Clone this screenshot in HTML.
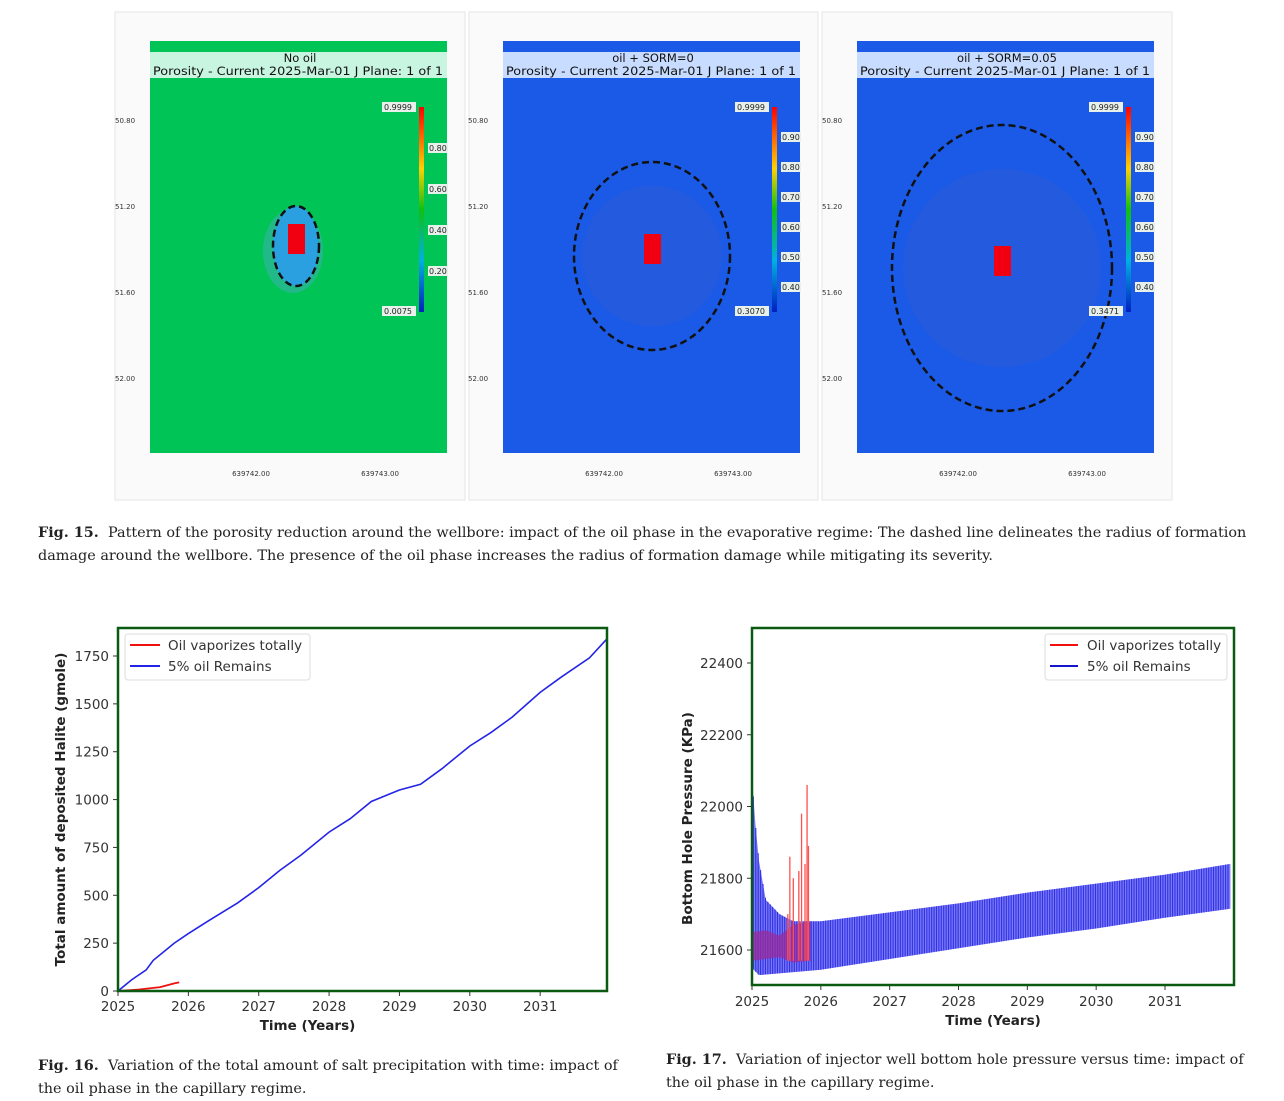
<!DOCTYPE html>
<html><head><meta charset="utf-8">
<style>
body{margin:0;background:#fff;width:1284px;height:1099px;position:relative;overflow:hidden;font-family:"DejaVu Sans",sans-serif}
.abs{position:absolute}
.cap{position:absolute;font-family:"DejaVu Serif",serif;font-size:14.4px;line-height:23px;color:#222}
.cap b{font-weight:bold}
</style></head><body>
<svg class="abs" style="left:0;top:0" width="1284" height="520">
  <g font-family="DejaVu Sans, sans-serif">
  <rect x="115" y="12" width="350" height="488" fill="#fafafa" stroke="#e6e6e6"/>
  <rect x="469" y="12" width="349" height="488" fill="#fafafa" stroke="#e6e6e6"/>
  <rect x="822" y="12" width="350" height="488" fill="#fafafa" stroke="#e6e6e6"/>
  <g id="panels"></g>
  </g>
</svg>
<div class="cap" style="left:38px;top:521px;width:1225px"><b>Fig. 15.</b>&nbsp; Pattern of the porosity reduction around the wellbore: impact of the oil phase in the evaporative regime: The dashed line delineates the radius of formation damage around the wellbore. The presence of the oil phase increases the radius of formation damage while mitigating its severity.</div>

<svg class="abs" style="left:0;top:600px" width="640" height="440" id="c16"></svg>
<svg class="abs" style="left:640px;top:600px" width="644" height="440" id="c17"></svg>

<div class="cap" style="left:38px;top:1054px;width:600px"><b>Fig. 16.</b>&nbsp; Variation of the total amount of salt precipitation with time: impact of the oil phase in the capillary regime.</div>
<div class="cap" style="left:666px;top:1048px;width:600px"><b>Fig. 17.</b>&nbsp; Variation of injector well bottom hole pressure versus time: impact of the oil phase in the capillary regime.</div>

<script>
// ---------- Fig 16 data ----------
const years = [2025,2026,2027,2028,2029,2030,2031];
const haliteTicks = [0,250,500,750,1000,1250,1500,1750];
const blueT = [2025,2025.2,2025.4,2025.5,2025.8,2026,2026.3,2026.7,2027,2027.3,2027.6,2028,2028.3,2028.6,2029,2029.3,2029.6,2030,2030.3,2030.6,2031,2031.3,2031.7,2031.95];
const blueV = [0,60,110,160,250,300,370,460,540,630,710,830,900,990,1050,1080,1160,1280,1350,1430,1560,1640,1740,1840];
const redT = [2025,2025.3,2025.6,2025.8,2025.87];
const redV = [0,8,20,40,45];
// ---------- Fig 17 data ----------
const bhpTicks = [21600,21800,22000,22200,22400];
const upT = [2025,2025.05,2025.1,2025.2,2025.4,2025.6,2026,2027,2028,2029,2030,2031,2031.95];
const upV = [22080,21950,21850,21740,21700,21680,21680,21705,21730,21760,21785,21810,21840];
const loT = [2025,2025.1,2026,2027,2028,2029,2030,2031,2031.95];
const loV = [21550,21530,21545,21575,21605,21635,21660,21690,21715];
const redBandT = [2025,2025.2,2025.4,2025.6,2025.85];
const redBandHi = [21650,21655,21640,21670,21680];
const redBandLo = [21570,21575,21580,21565,21570];
const spikeT = [2025.52,2025.55,2025.6,2025.68,2025.72,2025.77,2025.8,2025.82];
const spikeV = [21700,21860,21800,21820,21980,21840,22060,21890];

const NS='http://www.w3.org/2000/svg';
function el(p,tag,at){const e=document.createElementNS(NS,tag);for(const k in at)e.setAttribute(k,at[k]);p.appendChild(e);return e;}
function txt(p,x,y,s,at){const e=el(p,'text',Object.assign({x:x,y:y},at));e.textContent=s;return e;}
function lerp(ts,vs,t){for(let i=0;i<ts.length-1;i++){if(t<=ts[i+1]){const f=(t-ts[i])/(ts[i+1]-ts[i]);return vs[i]+f*(vs[i+1]-vs[i]);}}return vs[vs.length-1];}

// Fig 16
(function(){
const s=document.getElementById('c16');
const L=118,R=607,T=28,B=391;
const X=t=>L+(t-2025)*(R-L)/6.95, Y=v=>B-v*(335/1750);
years.forEach(y=>{el(s,'line',{x1:X(y),x2:X(y),y1:B,y2:B+5,stroke:'#333'});
 const t=txt(s,X(y),B+20,String(y),{'font-size':13.5,'text-anchor':'middle',fill:'#333'});});
haliteTicks.forEach(v=>{el(s,'line',{x1:L-5,x2:L,y1:Y(v),y2:Y(v),stroke:'#333'});
 const t=txt(s,L-9,Y(v)+5,String(v),{'font-size':13.5,'text-anchor':'end',fill:'#333'});});
const bp=el(s,'polyline',{points:blueT.map((t,i)=>X(t)+','+Y(blueV[i])).join(' '),fill:'none',stroke:'#2424e8','stroke-width':1.6});

const rp=el(s,'polyline',{points:redT.map((t,i)=>X(t)+','+Y(redV[i])).join(' '),fill:'none',stroke:'#f01010','stroke-width':1.8});

el(s,'rect',{x:L,y:T,width:R-L,height:B-T,fill:'none',stroke:'#0b5a12','stroke-width':2.5});
const ya=txt(s,0,0,'Total amount of deposited Halite (gmole)',{'font-size':13.5,'font-weight':'bold',fill:'#222','text-anchor':'middle',transform:'translate(65,'+((T+B)/2)+') rotate(-90)'});

const xa=txt(s,(L+R)/2-55,430,'Time (Years)',{'font-size':13.5,'font-weight':'bold',fill:'#222','text-anchor':'middle'});

const lg=el(s,'g',{});
el(lg,'rect',{x:125,y:34,width:185,height:46,fill:'#fff',stroke:'#ddd',rx:3});
el(lg,'line',{x1:130,x2:160,y1:45,y2:45,stroke:'#f01010','stroke-width':2});
txt(lg,168,50,'Oil vaporizes totally',{'font-size':13.5,fill:'#333'});
el(lg,'line',{x1:130,x2:160,y1:66,y2:66,stroke:'#2424e8','stroke-width':2});
txt(lg,168,71,'5% oil Remains',{'font-size':13.5,fill:'#333'});
})();

// Fig 17
(function(){
const s=document.getElementById('c17');
const L=112,R=594,T=28,B=385;
const X=t=>L+(t-2025)*(413/6), Y=v=>350-(v-21600)*(287/800);
years.forEach(y=>{el(s,'line',{x1:X(y),x2:X(y),y1:B,y2:B+5,stroke:'#333'});
 const t=txt(s,X(y),B+21,String(y),{'font-size':13.5,'text-anchor':'middle',fill:'#333'});});
bhpTicks.forEach(v=>{el(s,'line',{x1:L-5,x2:L,y1:Y(v),y2:Y(v),stroke:'#333'});
 const t=txt(s,L-9,Y(v)+5,String(v),{'font-size':13.5,'text-anchor':'end',fill:'#333'});});
const band=el(s,'g',{});
const pts=upT.map((t,i)=>X(t)+','+Y(upV[i])).concat(loT.slice().reverse().map((t,i)=>X(t)+','+Y(loV[loV.length-1-i])));
el(band,'polygon',{points:pts.join(' '),fill:'#7a7af2'});
for(let t=2025.02;t<2031.95;t+=0.035){el(band,'line',{x1:X(t),x2:X(t),y1:Y(lerp(upT,upV,t)),y2:Y(lerp(loT,loV,t)),stroke:'#3030e8','stroke-width':1.1});}
const rg=el(s,'g',{});
const rpts=redBandT.map((t,i)=>X(t)+','+Y(redBandHi[i])).concat(redBandT.slice().reverse().map((t,i)=>X(t)+','+Y(redBandLo[redBandLo.length-1-i])));
el(rg,'polygon',{points:rpts.join(' '),fill:'#9a2a9a','opacity':0.75});
spikeT.forEach((t,i)=>el(rg,'line',{x1:X(t),x2:X(t),y1:Y(spikeV[i]),y2:Y(21570),stroke:'#ff5050','stroke-width':1.3}));
el(s,'rect',{x:L,y:T,width:R-L,height:B-T,fill:'none',stroke:'#0b5a12','stroke-width':2.5});
const ya=txt(s,0,0,'Bottom Hole Pressure (KPa)',{'font-size':13.5,'font-weight':'bold',fill:'#222','text-anchor':'middle',transform:'translate(52,'+((T+B)/2+12)+') rotate(-90)'});

const xa=txt(s,353,425,'Time (Years)',{'font-size':13.5,'font-weight':'bold',fill:'#222','text-anchor':'middle'});

const lg=el(s,'g',{});
el(lg,'rect',{x:405,y:34,width:182,height:46,fill:'#fff',stroke:'#ddd',rx:3});
el(lg,'line',{x1:410,x2:438,y1:45,y2:45,stroke:'#f01010','stroke-width':2});
txt(lg,447,50,'Oil vaporizes totally',{'font-size':13.5,fill:'#333'});
el(lg,'line',{x1:410,x2:438,y1:66,y2:66,stroke:'#1515d0','stroke-width':2});
txt(lg,447,71,'5% oil Remains',{'font-size':13.5,fill:'#333'});
})();

// Fig 15 panels
(function(){
const g=document.getElementById('panels');
const panels=[
 {x:150,bg:'#00c455',hdr:'#c8f5e0',top:'No oil',cbTop:'0.9999',cbBot:'0.0075',marks:['0.80','0.60','0.40','0.20'],ell:[296,246,23,40],name:'panel-no-oil'},
 {x:503,bg:'#1a5ae6',hdr:'#c8dcff',top:'oil + SORM=0',cbTop:'0.9999',cbBot:'0.3070',marks:['0.90','0.80','0.70','0.60','0.50','0.40'],ell:[652,256,78,94],name:'panel-sorm-0'},
 {x:857,bg:'#1a5ae6',hdr:'#c8dcff',top:'oil + SORM=0.05',cbTop:'0.9999',cbBot:'0.3471',marks:['0.90','0.80','0.70','0.60','0.50','0.40'],ell:[1002,268,110,143],name:'panel-sorm-005'}];
panels.forEach((p,k)=>{
 const pg=el(g,'g',{});
 el(pg,'rect',{x:p.x,y:41,width:297,height:412,fill:p.bg});
 el(pg,'rect',{x:p.x,y:52,width:297,height:26,fill:p.hdr});
 txt(pg,p.x+150,62,p.top,{'font-size':11.5,'text-anchor':'middle',fill:'#111'});
 txt(pg,p.x+148,75,'Porosity - Current  2025-Mar-01   J Plane: 1 of 1',{'font-size':11.5,'text-anchor':'middle',fill:'#111','textLength':290,'lengthAdjust':'spacingAndGlyphs'});
 if(k>0){el(pg,'circle',{cx:p.ell[0],cy:p.ell[1],r:p.ell[2]*0.9,fill:'#2c5ad8',opacity:0.6});}
 else{el(pg,'ellipse',{cx:p.ell[0]-3,cy:p.ell[1]+5,rx:30,ry:42,fill:'#30b5a0',opacity:0.7});el(pg,'ellipse',{cx:p.ell[0],cy:p.ell[1],rx:p.ell[2],ry:p.ell[3],fill:'#2aa0e0'});}
 el(pg,'rect',{x:p.ell[0]-8,y:p.ell[1]-22,width:17,height:30,fill:'#f00010'});
 el(pg,'ellipse',{cx:p.ell[0],cy:p.ell[1],rx:p.ell[2],ry:p.ell[3],fill:'none',stroke:'#111','stroke-width':2.5,'stroke-dasharray':'7,4'});
 const cx=p.x+269;
 const gid='cb'+k;const d=el(g,'defs',{});const lgd=el(d,'linearGradient',{id:gid,x1:0,y1:0,x2:0,y2:1});
 [['0','#ff0000'],['0.3','#ffd000'],['0.5','#10c010'],['0.75','#00b0e0'],['1','#0020c0']].forEach(s=>el(lgd,'stop',{offset:s[0],'stop-color':s[1]}));
 el(pg,'rect',{x:cx,y:107,width:5,height:205,fill:'url(#'+gid+')'});
 el(pg,'rect',{x:cx-37,y:102,width:34,height:10,fill:'#e8f0ec'});txt(pg,cx-35,110,p.cbTop,{'font-size':8,fill:'#222'});
 el(pg,'rect',{x:cx-37,y:306,width:34,height:10,fill:'#e8f0ec'});txt(pg,cx-35,314,p.cbBot,{'font-size':8,fill:'#222'});
 const step=k==0?41:30;
 p.marks.forEach((m,i)=>{const y=(k==0?148:137)+i*step;el(pg,'rect',{x:cx+9,y:y-5,width:20,height:10,fill:'#e8f0ec'});txt(pg,cx+10,y+3,m,{'font-size':8,fill:'#222'});});
 ['50.80','51.20','51.60','52.00'].forEach((l,i)=>txt(g,p.x-35,123+i*86,l,{'font-size':7,fill:'#333'}));
 txt(g,p.x+101,476,'639742.00',{'font-size':7,'text-anchor':'middle',fill:'#333'});
 txt(g,p.x+230,476,'639743.00',{'font-size':7,'text-anchor':'middle',fill:'#333'});
});
})();
</script>
</body></html>
